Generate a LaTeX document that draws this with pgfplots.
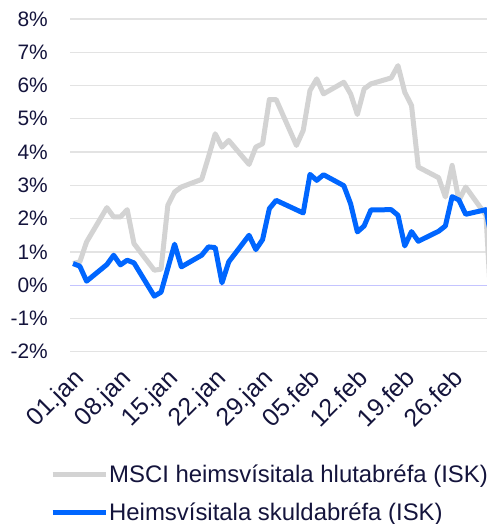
\documentclass[border=0pt]{standalone}
\usepackage{fontspec}
\setmainfont{Liberation Sans}
\usepackage{pgfplots}
\pgfplotsset{compat=1.18}
\definecolor{navy}{HTML}{14143C}
\definecolor{msci}{HTML}{D3D3D3}
\definecolor{bond}{HTML}{0066FF}
\definecolor{gridc}{HTML}{E3E3E3}
\definecolor{zeroc}{HTML}{C4C4FF}

\begin{document}
\begin{tikzpicture}
\useasboundingbox (-70bp,-172.3bp) rectangle (417bp,351.7bp);
\begin{axis}[
    scale only axis, width=417bp, height=332.7bp,
    at={(0,0)}, anchor=south west,
    xmin=-0.45, xmax=61.15, ymin=-2, ymax=8,
    axis line style={draw=none},
    major tick length=0pt,
    ytick={-2,-1,1,2,3,4,5,6,7,8},
    yticklabels={-2\%,-1\%,1\%,2\%,3\%,4\%,5\%,6\%,7\%,8\%},
    extra y ticks={0}, extra y tick labels={0\%},
    extra y tick style={grid style={zeroc, line width=1.3bp}},
    ymajorgrids, grid style={gridc, line width=1.3bp},
    xtick={0,7,14,21,28,35,42,49,56},
    xticklabels={01.jan,08.jan,15.jan,22.jan,29.jan,05.feb,12.feb,19.feb,26.feb},
    tick label style={text=navy},
    yticklabel style={font=\fontsize{21}{25}\selectfont, anchor=east, inner sep=0pt, xshift=-22bp},
    xticklabel style={font=\fontsize{25}{29}\selectfont, inner sep=0pt, xshift=-1bp, yshift=-15bp, rotate=45, anchor=north east},
    legend style={at={(-0.048,-0.338)}, anchor=north west, draw=none, fill=none,
                  inner sep=0pt, row sep=16bp, font=\fontsize{24}{28}\selectfont,
                  text=navy, nodes={inner sep=1bp}},
    legend cell align=left,
    legend image code/.code={\draw[#1, line width=5bp] (0bp,0bp) -- (53bp,0bp);},
]
\addplot[msci, line width=5bp, line join=round] coordinates {
  (0,0.65)(1,0.70)(2,1.30)(5,2.33)(6,2.05)(7,2.05)(8,2.27)(9,1.25)(12,0.45)(13,0.48)
  (14,2.40)(15,2.80)(16,2.95)(19,3.18)(20,3.85)(21,4.55)(22,4.15)(23,4.35)(26,3.63)
  (27,4.15)(28,4.25)(29,5.58)(30,5.58)(33,4.20)(34,4.65)(35,5.85)(36,6.20)(37,5.75)
  (40,6.10)(41,5.75)(42,5.13)(43,5.90)(44,6.05)(47,6.23)(48,6.60)(49,5.80)(50,5.40)
  (51,3.55)(54,3.23)(55,2.65)(56,3.60)(57,2.55)(58,2.95)(61,2.10)(62,-1.5)
};
\addplot[bond, line width=5bp, line join=round] coordinates {
  (0,0.65)(1,0.57)(2,0.12)(5,0.62)(6,0.90)(7,0.61)(8,0.75)(9,0.67)(12,-0.33)(13,-0.21)
  (15,1.23)(16,0.55)(19,0.90)(20,1.15)(21,1.13)(22,0.07)(23,0.70)(26,1.50)(27,1.07)
  (28,1.37)(29,2.30)(30,2.55)(34,2.17)(35,3.33)(36,3.15)(37,3.32)(40,2.99)(41,2.45)
  (42,1.60)(43,1.78)(44,2.26)(47,2.27)(48,2.10)(49,1.18)(50,1.61)(51,1.32)(54,1.62)
  (55,1.78)(56,2.66)(57,2.56)(58,2.13)(61,2.27)(62,1.2)
};
\legend{MSCI heimsvísitala hlutabréfa (ISK), Heimsvísitala skuldabréfa (ISK)}
\end{axis}
\end{tikzpicture}
\end{document}
